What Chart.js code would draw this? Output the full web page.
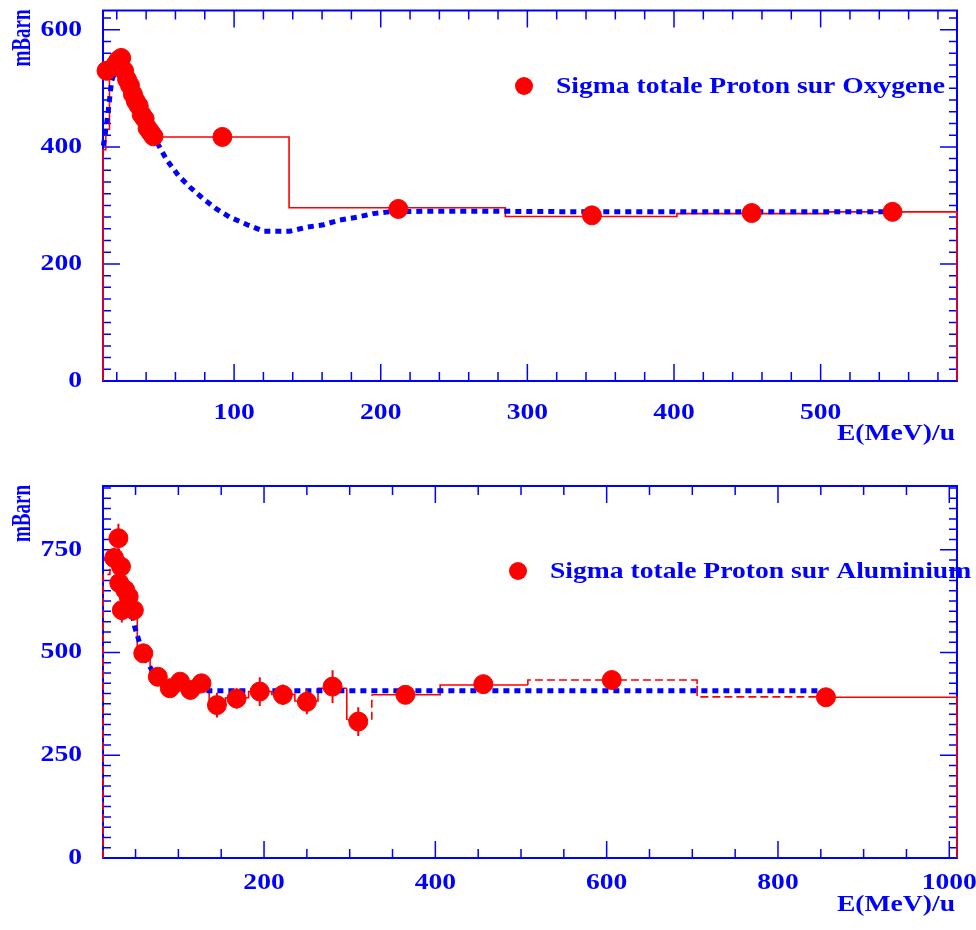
<!DOCTYPE html>
<html>
<head>
<meta charset="utf-8">
<script src="https://cdn.jsdelivr.net/npm/chart.js@4.4.0/dist/chart.umd.min.js"></script>
<style>
  body { margin: 0; background: #fff; }
  .panel { position: absolute; left: 0; width: 976px; height: 465px; }
</style>
</head>
<body>
<div class="panel" style="top:0"><canvas id="oxy"></canvas></div>
<div class="panel" style="top:465px"><canvas id="alu"></canvas></div>
<script>
// ---- Oxygene (top) ----
const oxyE = [13, 19, 21, 23, 25, 27, 29, 31, 33, 35, 37, 39, 41, 43, 45, 92, 212, 344, 453, 549];
const oxyS = [530, 540, 548, 552, 530, 515, 505, 490, 478, 470, 455, 448, 432, 425, 418, 417, 294, 283, 287, 289];
const oxyFitE = [10.8, 12, 14, 15.5, 16.5, 19, 24, 30, 36, 43, 48, 54, 62, 70, 79, 88, 97, 109, 120, 138, 150, 161, 172, 184, 195, 206, 229, 275, 350, 450, 550];
const oxyFitS = [402, 420, 457, 491, 513, 530, 533, 496, 462, 430, 405, 378, 351, 331, 311, 294, 280, 267, 256, 256, 263, 267, 275, 280, 286, 289, 290, 290, 289, 289, 289];
const oxyEdges = [10.6, 12.5, 15, 20, 25, 30, 35, 40, 45, 137.5, 285, 402, 505, 593];
const oxyHist = [395, 430, 530, 548, 520, 490, 465, 440, 417, 296, 281, 286, 289];
const oxyXTicks = [100, 200, 300, 400, 500];
const oxyYTicks = [0, 200, 400, 600];

// ---- Aluminium (bottom) ----
const aluE = [25, 30, 31, 33, 34, 38, 42, 48, 59, 76, 90, 102, 114, 127, 145, 168, 195, 222, 250, 280, 310, 365, 456, 606, 856];
const aluS = [730, 778, 669, 709, 603, 652, 636, 603, 498, 441, 413, 429, 409, 425, 372, 388, 405, 397, 380, 417, 332, 397, 423, 433, 391];
const aluErr = [25, 35, 25, 25, 30, 25, 25, 25, 20, 20, 20, 20, 20, 20, 30, 25, 35, 25, 30, 40, 35, 20, 20, 20, 20];
const aluFitE = [15, 26, 34, 40, 45, 49, 55, 61, 69, 78, 90, 102, 120, 200, 400, 600, 856];
const aluFitS = [733, 717, 684, 648, 603, 562, 522, 486, 457, 433, 417, 409, 407, 407, 407, 407, 407];
const aluEdges = [12, 20, 28, 36, 44, 52, 67, 83, 96, 108, 120, 136, 155, 182, 209, 236, 263, 296.6, 325.8, 405.6, 508, 705.6, 856, 1009];
const aluHist = [690, 720, 690, 645, 610, 500, 445, 415, 425, 410, 422, 375, 390, 405, 398, 382, 413, 336, 397, 421, 433, 392, 391];
const aluDashed = [1, 1, 1, 1, 1, 0, 0, 0, 0, 0, 0, 0, 0, 0, 0, 0, 0, 1, 0, 0, 1, 1, 0];
const aluXTicks = [200, 400, 600, 800, 1000];
const aluYTicks = [0, 250, 500, 750];

const BLUE = '#0000ff';
const RED = '#ff0000';
const FAMILY = '"Liberation Serif", "Times New Roman", serif';

function xy(xs, ys) { return xs.map((x, i) => ({ x: x, y: ys[i] })); }

function stepLine(edges, vals) {
  const pts = [{ x: edges[0], y: 0 }];
  vals.forEach((v, i) => {
    pts.push({ x: edges[i], y: v });
    pts.push({ x: edges[i + 1], y: v });
  });
  pts.push({ x: edges[edges.length - 1], y: 0 });
  return pts;
}

function segDashed(flags, s) {
  if (!flags) return false;
  if (s === 0) return !!flags[0];
  if (s % 2 === 1) return !!flags[(s - 1) / 2];
  const k = s / 2 - 1;
  return !!flags[k] || !!flags[k + 1];
}

// the original text is stretched sideways, so draw it with a scale
function text(ctx, str, x, y, align, size, stretch, rot) {
  ctx.save();
  ctx.translate(x, y);
  if (rot) { ctx.rotate(-Math.PI / 2); ctx.scale(1, stretch); } else { ctx.scale(stretch, 1); }
  ctx.font = 'bold ' + size + 'px ' + FAMILY;
  ctx.fillStyle = BLUE;
  ctx.textAlign = align;
  ctx.textBaseline = 'middle';
  ctx.fillText(str, 0, 0);
  ctx.restore();
}

// frame and ROOT-style inner ticks, drawn under the data
const framePlugin = {
  id: 'frame',
  beforeDatasetsDraw(chart, args, o) {
    const { ctx, chartArea: a, scales: { x, y } } = chart;
    ctx.save();
    ctx.strokeStyle = BLUE;
    ctx.lineWidth = 2;
    ctx.strokeRect(a.left, a.top, a.right - a.left, a.bottom - a.top);
    ctx.lineWidth = 1.5;
    ctx.beginPath();
    for (let v = Math.ceil(x.min / o.xMinor) * o.xMinor; v <= x.max; v += o.xMinor) {
      const p = x.getPixelForValue(v);
      const len = Math.abs(v % o.xMajor) < 1e-6 ? 17 : 9;
      ctx.moveTo(p, a.bottom); ctx.lineTo(p, a.bottom - len);
      ctx.moveTo(p, a.top); ctx.lineTo(p, a.top + len);
    }
    for (let v = Math.ceil(y.min / o.yMinor) * o.yMinor; v <= y.max; v += o.yMinor) {
      const p = y.getPixelForValue(v);
      const len = Math.abs(v % o.yMajor) < 1e-6 ? 17 : 8;
      ctx.moveTo(a.left, p); ctx.lineTo(a.left + len, p);
      ctx.moveTo(a.right, p); ctx.lineTo(a.right - len, p);
    }
    ctx.stroke();
    ctx.restore();
  },
  afterDatasetsDraw(chart, args, o) {
    const { ctx, scales: { x, y } } = chart;
    // error bars
    if (o.err) {
      ctx.save();
      ctx.strokeStyle = RED;
      ctx.lineWidth = 2;
      ctx.beginPath();
      o.errX.forEach((e, i) => {
        const px = x.getPixelForValue(e);
        ctx.moveTo(px, y.getPixelForValue(o.errY[i] - o.err[i]));
        ctx.lineTo(px, y.getPixelForValue(o.errY[i] + o.err[i]));
      });
      ctx.stroke();
      ctx.restore();
    }
  },
  afterDraw(chart, args, o) {
    const { ctx, chartArea: a, scales: { x, y } } = chart;
    o.xTicks.forEach(v => text(ctx, String(v), x.getPixelForValue(v), a.bottom + o.xLabelGap, 'center', 23, 1.2));
    o.yTicks.forEach(v => text(ctx, String(v), 82, y.getPixelForValue(v), 'right', 23, 1.2));
    text(ctx, 'E(MeV)/u', 955, a.bottom + o.xTitleGap, 'right', 23, 1.2);
    text(ctx, 'mBarn', 23, a.top - 1, 'right', 19, 1.4, true);
    // legend
    ctx.save();
    ctx.fillStyle = RED;
    ctx.beginPath();
    ctx.arc(o.legX, o.legY, 9, 0, Math.PI * 2);
    ctx.fill();
    ctx.restore();
    text(ctx, o.legend, o.legX + 32, o.legY + 1, 'left', 23, 1.2);
  }
};

function makeChart(id, c) {
  const hist = stepLine(c.edges, c.hist);
  return new Chart(document.getElementById(id), {
    type: 'scatter',
    data: {
      datasets: [
        {
          label: 'hist', type: 'line', data: hist, showLine: true,
          borderColor: RED, borderWidth: 1.6, pointRadius: 0, fill: false, clip: false,
          segment: { borderDash: ctx => segDashed(c.dashed, ctx.p0DataIndex) ? [8, 4] : undefined },
          order: 3
        },
        {
          label: 'fit', type: 'line', data: xy(c.fitE, c.fitS), showLine: true,
          borderColor: BLUE, borderWidth: 5, borderDash: [6, 5], borderCapStyle: 'butt',
          pointRadius: 0, fill: false, tension: 0, clip: false, order: 2
        },
        {
          label: c.legend, data: xy(c.ptE, c.ptS),
          backgroundColor: RED, borderColor: RED, pointRadius: 9.5, pointHoverRadius: 9.5,
          clip: false, order: 1
        }
      ]
    },
    options: {
      responsive: true,
      maintainAspectRatio: false,
      animation: false,
      events: [],
      layout: { padding: { left: 0, top: c.top, right: 19, bottom: 0 } },
      scales: {
        x: {
          type: 'linear', min: c.xMin, max: c.xMax,
          grid: { display: false }, border: { display: false },
          ticks: { display: false },
          afterFit(s) { s.height = c.xh; }
        },
        y: {
          type: 'linear', min: 0, max: c.yMax,
          grid: { display: false }, border: { display: false },
          ticks: { display: false },
          afterFit(s) { s.width = 103; }
        }
      },
      plugins: {
        legend: { display: false },
        tooltip: { enabled: false },
        frame: {
          xMinor: c.xMinor, xMajor: c.xMajor, yMinor: c.yMinor, yMajor: c.yMajor,
          xTicks: c.xTicks, yTicks: c.yTicks, xLabelGap: c.xLabelGap, xTitleGap: c.xTitleGap,
          legend: c.legend, legX: c.legX, legY: c.legY,
          err: c.err, errX: c.ptE, errY: c.ptS
        }
      }
    },
    plugins: [framePlugin]
  });
}

makeChart('oxy', {
  ptE: oxyE, ptS: oxyS, fitE: oxyFitE, fitS: oxyFitS, edges: oxyEdges, hist: oxyHist,
  xMin: 10.6, xMax: 593, yMax: 633, top: 6, xh: 84,
  xMinor: 20, xMajor: 100, yMinor: 20, yMajor: 200,
  xTicks: oxyXTicks, yTicks: oxyYTicks, xLabelGap: 32, xTitleGap: 53,
  legend: 'Sigma totale Proton sur Oxygene', legX: 524, legY: 86
});

makeChart('alu', {
  ptE: aluE, ptS: aluS, fitE: aluFitE, fitS: aluFitS, edges: aluEdges, hist: aluHist, dashed: aluDashed,
  err: aluErr,
  xMin: 12, xMax: 1009, yMax: 905, top: 21, xh: 72,
  xMinor: 50, xMajor: 200, yMinor: 25, yMajor: 250,
  xTicks: aluXTicks, yTicks: aluYTicks, xLabelGap: 25, xTitleGap: 47,
  legend: 'Sigma totale Proton sur Aluminium', legX: 518, legY: 106
});
</script>
</body>
</html>
